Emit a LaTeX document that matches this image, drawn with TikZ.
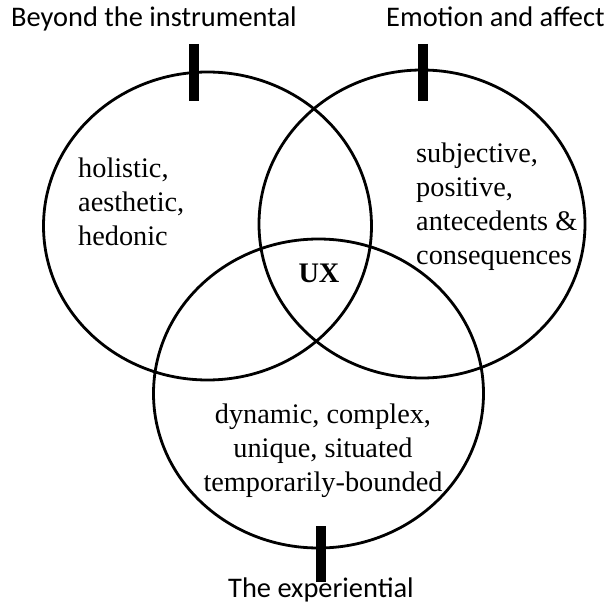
\documentclass[tikz,border=0pt]{standalone}
\usepackage{fontspec}
\setmainfont{Liberation Serif}
\newfontfamily\headfont{Carlito}
\usetikzlibrary{shapes.geometric}
\begin{document}
\begin{tikzpicture}[x=1pt,y=-1pt,
  ring/.style={draw, ellipse, line width=2.8pt, inner sep=0pt, outer sep=0pt},
  marker/.style={line width=9.5pt},
  heading/.style={inner sep=0pt, font=\headfont\fontsize{28.4}{34}\selectfont},
  body/.style={inner sep=0pt, font=\fontsize{28.3}{34}\selectfont},
]
\useasboundingbox (0,0) rectangle (608,604);

% the three overlapping sets
\node[ring, minimum width=328pt, minimum height=308pt] (left)   at (207.5,226) {};
\node[ring, minimum width=326pt, minimum height=308pt] (right)  at (422,224) {};
\node[ring, minimum width=330pt, minimum height=309pt] (bottom) at (318.5,393.5) {};

% markers on the rims
\coordinate (lt1) at (194,44);  \coordinate (lt2) at (194,101);
\coordinate (rt1) at (423,44);  \coordinate (rt2) at (423,101);
\coordinate (bt1) at (321,526); \coordinate (bt2) at (321,582);
\draw[marker] (lt1) -- (lt2);
\draw[marker] (rt1) -- (rt2);
\draw[marker] (bt1) -- (bt2);

% set titles
\node[heading, anchor=base west] (tleft)   at (11,27)  {Beyond the instrumental};
\node[heading, anchor=base west] (tright)  at (386,27) {Emotion and affect};
\node[heading, anchor=base west] (tbottom) at (228,597) {The experiential};

% set contents (base anchor sits on the last line)
\node[body, anchor=base west, align=left] (cleft) at (78,246)
  {holistic,\\aesthetic,\\hedonic};
\node[body, anchor=base west, align=left] (cright) at (416,265)
  {subjective,\\positive,\\antecedents \&\\consequences};
\node[body, anchor=base, align=center] (cbottom) at (323,491)
  {dynamic, complex,\\unique, situated\\temporarily-bounded};
\node[body, anchor=base, font=\bfseries\fontsize{28.3}{34}\selectfont] (ux) at (319,283) {UX};
\end{tikzpicture}
\end{document}
